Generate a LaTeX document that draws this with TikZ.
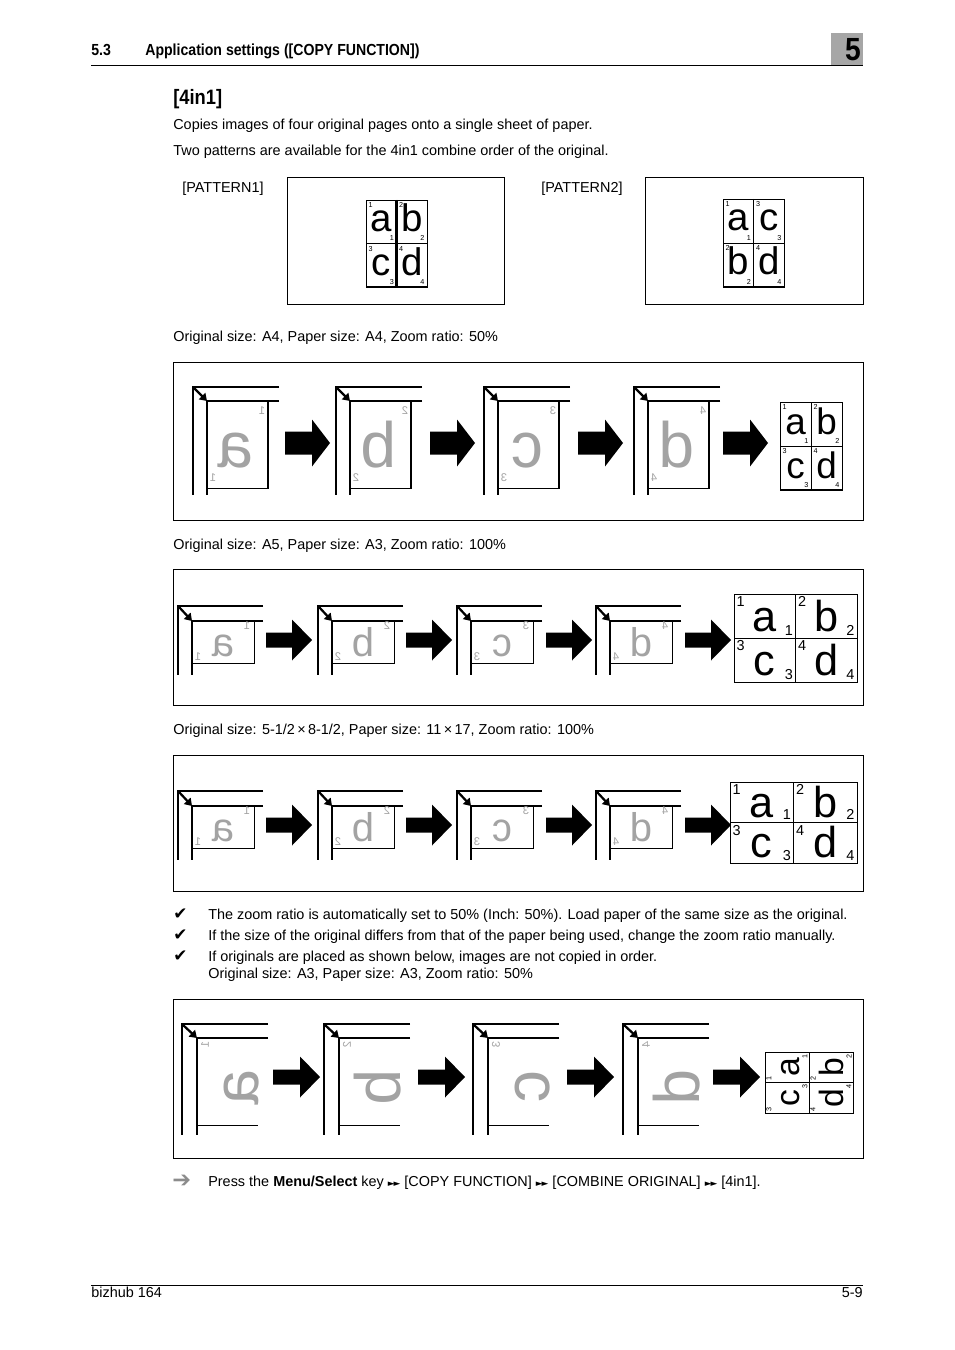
\documentclass[tikz,border=0pt]{standalone}
\usepackage{fontspec}
\setmainfont{Liberation Sans}
\newfontfamily\headfont[FakeStretch=0.88]{Liberation Sans}
\newfontfamily\symfont{DejaVu Sans}
\usepackage{xcolor}
\definecolor{cGlyph}{HTML}{A3A3A3}
\definecolor{cTab}{HTML}{A6A6A6}
\definecolor{cHint}{HTML}{8C8C8C}
\usetikzlibrary{arrows.meta}
\tikzset{
  panel-box/.style={draw,line width=0.6pt},
  rule-line/.style={line width=0.6pt},
  glass-line/.style={line width=0.9pt},
  page-line/.style={line width=0.6pt},
  sheet-line/.style={line width=0.6pt},
  sheet-shadow/.style={line width=1.3pt},
  corner-arrow/.style={-{Triangle[length=4.4pt,width=5.6pt]},line width=1.4pt},
  body-text/.style={anchor=base west,inner sep=0pt,font=\fontsize{9}{11}\selectfont},
  head-text/.style={anchor=base west,inner sep=0pt,font=\headfont\bfseries\fontsize{10}{12}\selectfont},
  glyph-big/.style={anchor=base,inner sep=0pt,text=cGlyph,xscale=-1},
  glyph-turned/.style={anchor=base,inner sep=0pt,text=cGlyph,rotate=90,xscale=-1},
  glyph-num/.style={inner sep=0pt,text=cGlyph,xscale=-1,font=\fontsize{7}{7}\selectfont},
  sheet-letter/.style={anchor=base,inner sep=0pt},
  sheet-num/.style={inner sep=0.5pt},
}
% block arrow: x, y (middle), length, shaft, head, tip length
\newcommand{\barrow}[6]{%
  \fill (#1,#2-#4/2) -- (#1+#3-#6,#2-#4/2) -- (#1+#3-#6,#2-#5/2) -- (#1+#3,#2)
    -- (#1+#3-#6,#2+#5/2) -- (#1+#3-#6,#2+#4/2) -- (#1,#2+#4/2) -- cycle;}
% 4in1 sheet: name, top left x y, cell w h, letter size, number size, baseline, cells
\newcommand{\sheetgrid}[9]{%
  \draw[sheet-line] (#2,#3) rectangle ++(2*#4,2*#5);
  \draw[sheet-line] (#2+#4,#3) -- ++(0,2*#5) (#2,#3+#5) -- ++(2*#4,0);
  \foreach \c/\r/\ch/\nm in {#9} {
    \node[sheet-letter,font=\fontsize{#6}{#6}\selectfont] (#1-\ch) at (#2+\c*#4+#4/2,#3+\r*#5+#8) {\ch};
    \node[sheet-num,font=\fontsize{#7}{#7}\selectfont,anchor=north west] (#1-n\nm) at (#2+\c*#4+1.5,#3+\r*#5+1.5) {\nm};
    \node[sheet-num,font=\fontsize{#7}{#7}\selectfont,anchor=south east] (#1-m\nm) at (#2+\c*#4+#4-1.5,#3+\r*#5+#5-1.5) {\nm};
  }}

\begin{document}
\begin{tikzpicture}[x=0.624pt,y=-0.624pt]
  \path[use as bounding box,fill=white] (0,0) rectangle (954,1350);

  % running head
  \fill[cTab] (831,33) rectangle (863,65);
  \node[anchor=base east,inner sep=0pt,font=\headfont\bfseries\fontsize{20}{20}\selectfont] (chap) at (861,61) {5};
  \draw[rule-line] (91,65) -- (863,65);
  \node[head-text] (secno) at (91,55.5) {5.3};
  \node[head-text] (sectitle) at (145,55.5) {Application settings ([COPY FUNCTION])};
  \node[anchor=base west,inner sep=0pt,font=\headfont\bfseries\fontsize{13}{15}\selectfont] (title) at (173,104.5) {[4in1]};

  \node[body-text] (intro1) at (173,129.5) {Copies images of four original pages onto a single sheet of paper.};
  \node[body-text] (intro2) at (173,155.5) {Two patterns are available for the 4in1 combine order of the original.};

  % patterns
  \node[body-text] (pat1-lbl) at (182,192.5) {[PATTERN1]};
  \node[body-text] (pat2-lbl) at (541,192.5) {[PATTERN2]};
  \draw[panel-box] (287,177) rectangle (504,304);
  \draw[panel-box] (645,177) rectangle (863,304);
  \sheetgrid{pat1}{366}{200}{30.5}{43.5}{24}{4.5}{32}{0/0/a/1,1/0/b/2,0/1/c/3,1/1/d/4}
  \sheetgrid{pat2}{723}{199}{30.5}{44}{24}{4.5}{32}{0/0/a/1,1/0/c/3,0/1/b/2,1/1/d/4}
  \draw[sheet-shadow] (366,287) -- (427,287) (396.5,200) -- (396.5,287) (723,287) -- (784,287);

  % A4 -> A4
  \node[body-text] (cap1) at (173,341.5) {Original size: A4, Paper size: A4, Zoom ratio: 50\%};
  \draw[panel-box] (173,362) rectangle (863,520);
  \foreach \ox/\ch/\nm in {193/a/1,336/b/2,484/c/3,634/d/4} {
    \draw[glass-line] (\ox+86,387) -- (\ox,387) -- (\ox,495);
    \draw[glass-line] (\ox+86,401) -- (\ox+14,401) -- (\ox+14,495);
    \draw[page-line] (\ox+14,401) rectangle (\ox+75,488);
    \draw[glass-line] (\ox+75,401) -- (\ox+75,488);
    \draw[corner-arrow] (\ox+1,388) -- (\ox+14,401);
    \node[glyph-big,font=\fontsize{40}{40}\selectfont] (o1-\ch) at (\ox+43,467) {\ch};
    \node[glyph-num] (o1-n\nm) at (\ox+69,411) {\nm};
    \node[glyph-num] (o1-m\nm) at (\ox+20,478) {\nm};
  }
  \foreach \ax in {285,430,578,723} {\barrow{\ax}{443}{45}{23}{47}{18}}
  \sheetgrid{res1}{780}{402}{31}{44}{23}{4.5}{32}{0/0/a/1,1/0/b/2,0/1/c/3,1/1/d/4}
  \draw[sheet-shadow] (780,490) -- (842,490);

  % A5 -> A3 and 5-1/2 x 8-1/2 -> 11 x 17
  \node[body-text] (cap2) at (173,549.5) {Original size: A5, Paper size: A3, Zoom ratio: 100\%};
  \node[body-text] (cap3) at (173,734.5) {Original size: 5-1/2\,×\,8-1/2, Paper size: 11\,×\,17, Zoom ratio: 100\%};
  \draw[panel-box] (173,569) rectangle (863,705);
  \draw[panel-box] (173,755) rectangle (863,891);
  \foreach \oy/\pn in {606/o2,791/o3} {
    \foreach \ox/\ch/\nm in {178/a/1,318/b/2,457/c/3,596/d/4} {
      \draw[glass-line] (\ox+85,\oy) -- (\ox,\oy) -- (\ox,\oy+69);
      \draw[glass-line] (\ox+85,\oy+15) -- (\ox+14,\oy+15) -- (\ox+14,\oy+69);
      \draw[page-line] (\ox+14,\oy+15) rectangle (\ox+76,\oy+57);
      \draw[corner-arrow] (\ox+1,\oy+1) -- (\ox+14,\oy+15);
      \node[glyph-big,font=\fontsize{25}{25}\selectfont] (\pn-\ch) at (\ox+45,\oy+50) {\ch};
      \node[glyph-num] (\pn-n\nm) at (\ox+69,\oy+20) {\nm};
      \node[glyph-num] (\pn-m\nm) at (\ox+20,\oy+51) {\nm};
    }
  }
  \foreach \ax in {266,406,546,685} {\barrow{\ax}{640}{46}{15}{41}{20}\barrow{\ax}{825}{46}{15}{41}{20}}
  \sheetgrid{res2}{734}{594}{61.5}{44}{27}{9}{37}{0/0/a/1,1/0/b/2,0/1/c/3,1/1/d/4}
  \sheetgrid{res3}{730}{782}{63.5}{40.5}{27}{9}{35}{0/0/a/1,1/0/b/2,0/1/c/3,1/1/d/4}

  % notes
  \foreach \ty/\tx [count=\k] in {919.5/{The zoom ratio is automatically set to 50\% (Inch: 50\%). Load paper of the same size as the original.},
      940.5/{If the size of the original differs from that of the paper being used, change the zoom ratio manually.},
      961.5/{If originals are placed as shown below, images are not copied in order.}} {
    \node[anchor=base west,inner sep=0pt,font=\symfont\fontsize{10.5}{10.5}\selectfont] (chk\k) at (173,\ty) {✔};
    \node[body-text] (note\k) at (208,\ty) {\tx};
  }
  \node[body-text] (cap4) at (208,978.5) {Original size: A3, Paper size: A3, Zoom ratio: 50\%};

  % A3 -> A3, turned originals
  \draw[panel-box] (173,999) rectangle (863,1158);
  \foreach \ox/\ch/\nm in {182/a/1,324/b/2,473/c/3,623/d/4} {
    \draw[glass-line] (\ox+86,1024) -- (\ox,1024) -- (\ox,1135);
    \draw[glass-line] (\ox+86,1038) -- (\ox+15,1038) -- (\ox+15,1135);
    \draw[page-line] (\ox+15,1125) -- (\ox+76,1125);
    \draw[corner-arrow] (\ox+1,1025) -- (\ox+15,1038);
    \node[glyph-turned,font=\fontsize{40}{40}\selectfont] (o4-\ch) at (\ox+76,1087) {\ch};
    \node[glyph-turned,anchor=center,font=\fontsize{7}{7}\selectfont] (o4-n\nm) at (\ox+23,1045) {\nm};
  }
  \foreach \ax in {273,418,567,713} {\barrow{\ax}{1077}{47}{15}{41}{20}}
  \draw[sheet-line] (765,1052) rectangle (853,1113);
  \draw[sheet-line] (809,1052) -- (809,1113) (765,1082.5) -- (853,1082.5);
  \foreach \c/\r/\ch/\nm in {0/0/a/1,1/0/b/2,0/1/c/3,1/1/d/4} {
    \node[sheet-letter,rotate=90,font=\fontsize{21}{21}\selectfont] (res4-\ch) at (765+\c*44+34,1052+\r*30.5+15.25) {\ch};
    \node[sheet-num,rotate=90,font=\fontsize{4.5}{4.5}\selectfont] (res4-n\nm) at (765+\c*44+40,1052+\r*30.5+4) {\nm};
    \node[sheet-num,rotate=90,font=\fontsize{4.5}{4.5}\selectfont] (res4-m\nm) at (765+\c*44+4,1052+\r*30.5+26.5) {\nm};
  }

  % key path
  \node[anchor=base west,inner sep=0pt,text=cHint,font=\symfont\fontsize{14}{14}\selectfont] (hint) at (172,1187) {➔};
  \node[body-text] (keys) at (208,1186.5) {Press the \textbf{Menu/Select} key {\symfont\fontsize{5.5}{5.5}\selectfont ►\kern-0.6pt►} [COPY FUNCTION] {\symfont\fontsize{5.5}{5.5}\selectfont ►\kern-0.6pt►} [COMBINE ORIGINAL] {\symfont\fontsize{5.5}{5.5}\selectfont ►\kern-0.6pt►} [4in1].};

  % running foot
  \draw[rule-line] (91,1285) -- (863,1285);
  \node[body-text] (model) at (91,1297.5) {bizhub 164};
  \node[anchor=base east,inner sep=0pt,font=\fontsize{9}{11}\selectfont] (pageno) at (863,1297.5) {5-9};
\end{tikzpicture}
\end{document}
